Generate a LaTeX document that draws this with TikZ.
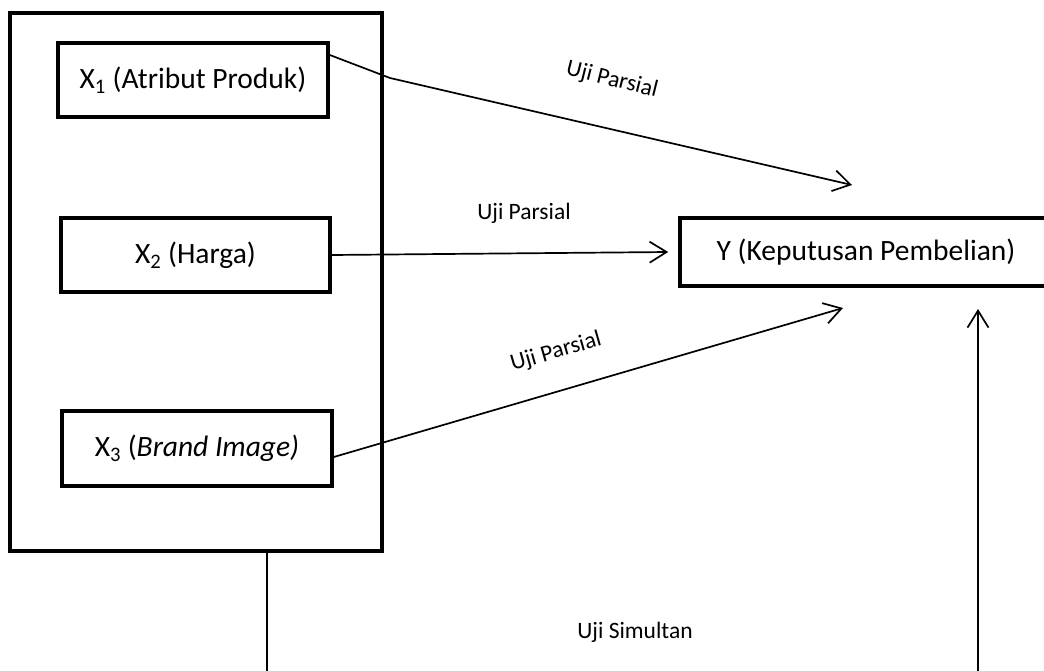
\documentclass[tikz,border=0pt]{standalone}
\usepackage{fontspec}
\setmainfont{Carlito}
\usetikzlibrary{arrows.meta}
\tikzset{
  box/.style={draw, line width=3.6pt, minimum height=74pt, inner sep=0pt, font=\fontsize{29.5}{34}\selectfont, anchor=center},
  outerbox/.style={draw, line width=4.2pt, inner sep=0pt},
  conn/.style={line width=1.7pt, -{Straight Barb[length=17pt, width=21pt, line width=1.7pt]}},
  plain/.style={line width=1.7pt},
  lbl/.style={font=\fontsize{23.5}{28}\selectfont, inner sep=0pt}
}
\begin{document}
\begin{tikzpicture}[x=1pt, y=-1pt]
\useasboundingbox (0,0) rectangle (1044,671);
\clip (0,0) rectangle (1044,671);
\fill[white] (0,0) rectangle (1044,671);
% outer grouping box
\node[outerbox, minimum width=372pt, minimum height=538pt] (outer) at (196,282) {};
% variable boxes
\node[box, minimum width=270pt] (x1) at (193,80) {X\textsubscript{1} (Atribut Produk)};
\node[box, minimum width=269pt] (x2) at (195.5,255) {X\textsubscript{2} (Harga)};
\node[box, minimum width=270pt, minimum height=75pt] (x3) at (197,448.5) {X\textsubscript{3} (\textit{Brand Image)}};
\node[box, minimum width=372pt, minimum height=68pt] (y) at (866,252) {Y (Keputusan Pembelian)};
% free ends
\coordinate (k1) at (390,78);
\coordinate (t1) at (852,185);
\coordinate (t3) at (843,308);
\coordinate (b1) at (267,690);
\coordinate (b2) at (978,690);
\coordinate (t4) at (978,309);
% connectors
\draw[conn] ([yshift=25pt]x1.east) -- (k1) -- (t1);
\draw[conn] (x2.east) -- ([xshift=-10pt]y.west);
\draw[conn] ([yshift=-8.5pt]x3.east) -- (t3);
\draw[plain] ([xshift=71pt]outer.south) -- (b1);
\draw[conn] (b2) -- (t4);
% labels
\node[lbl, rotate=-14] (l1) at (612,80) {Uji Parsial};
\node[lbl] (l2) at (524,213) {Uji Parsial};
\node[lbl, rotate=16] (l3) at (556,352) {Uji Parsial};
\node[lbl] (l4) at (635,632) {Uji Simultan};
\end{tikzpicture}
\end{document}
